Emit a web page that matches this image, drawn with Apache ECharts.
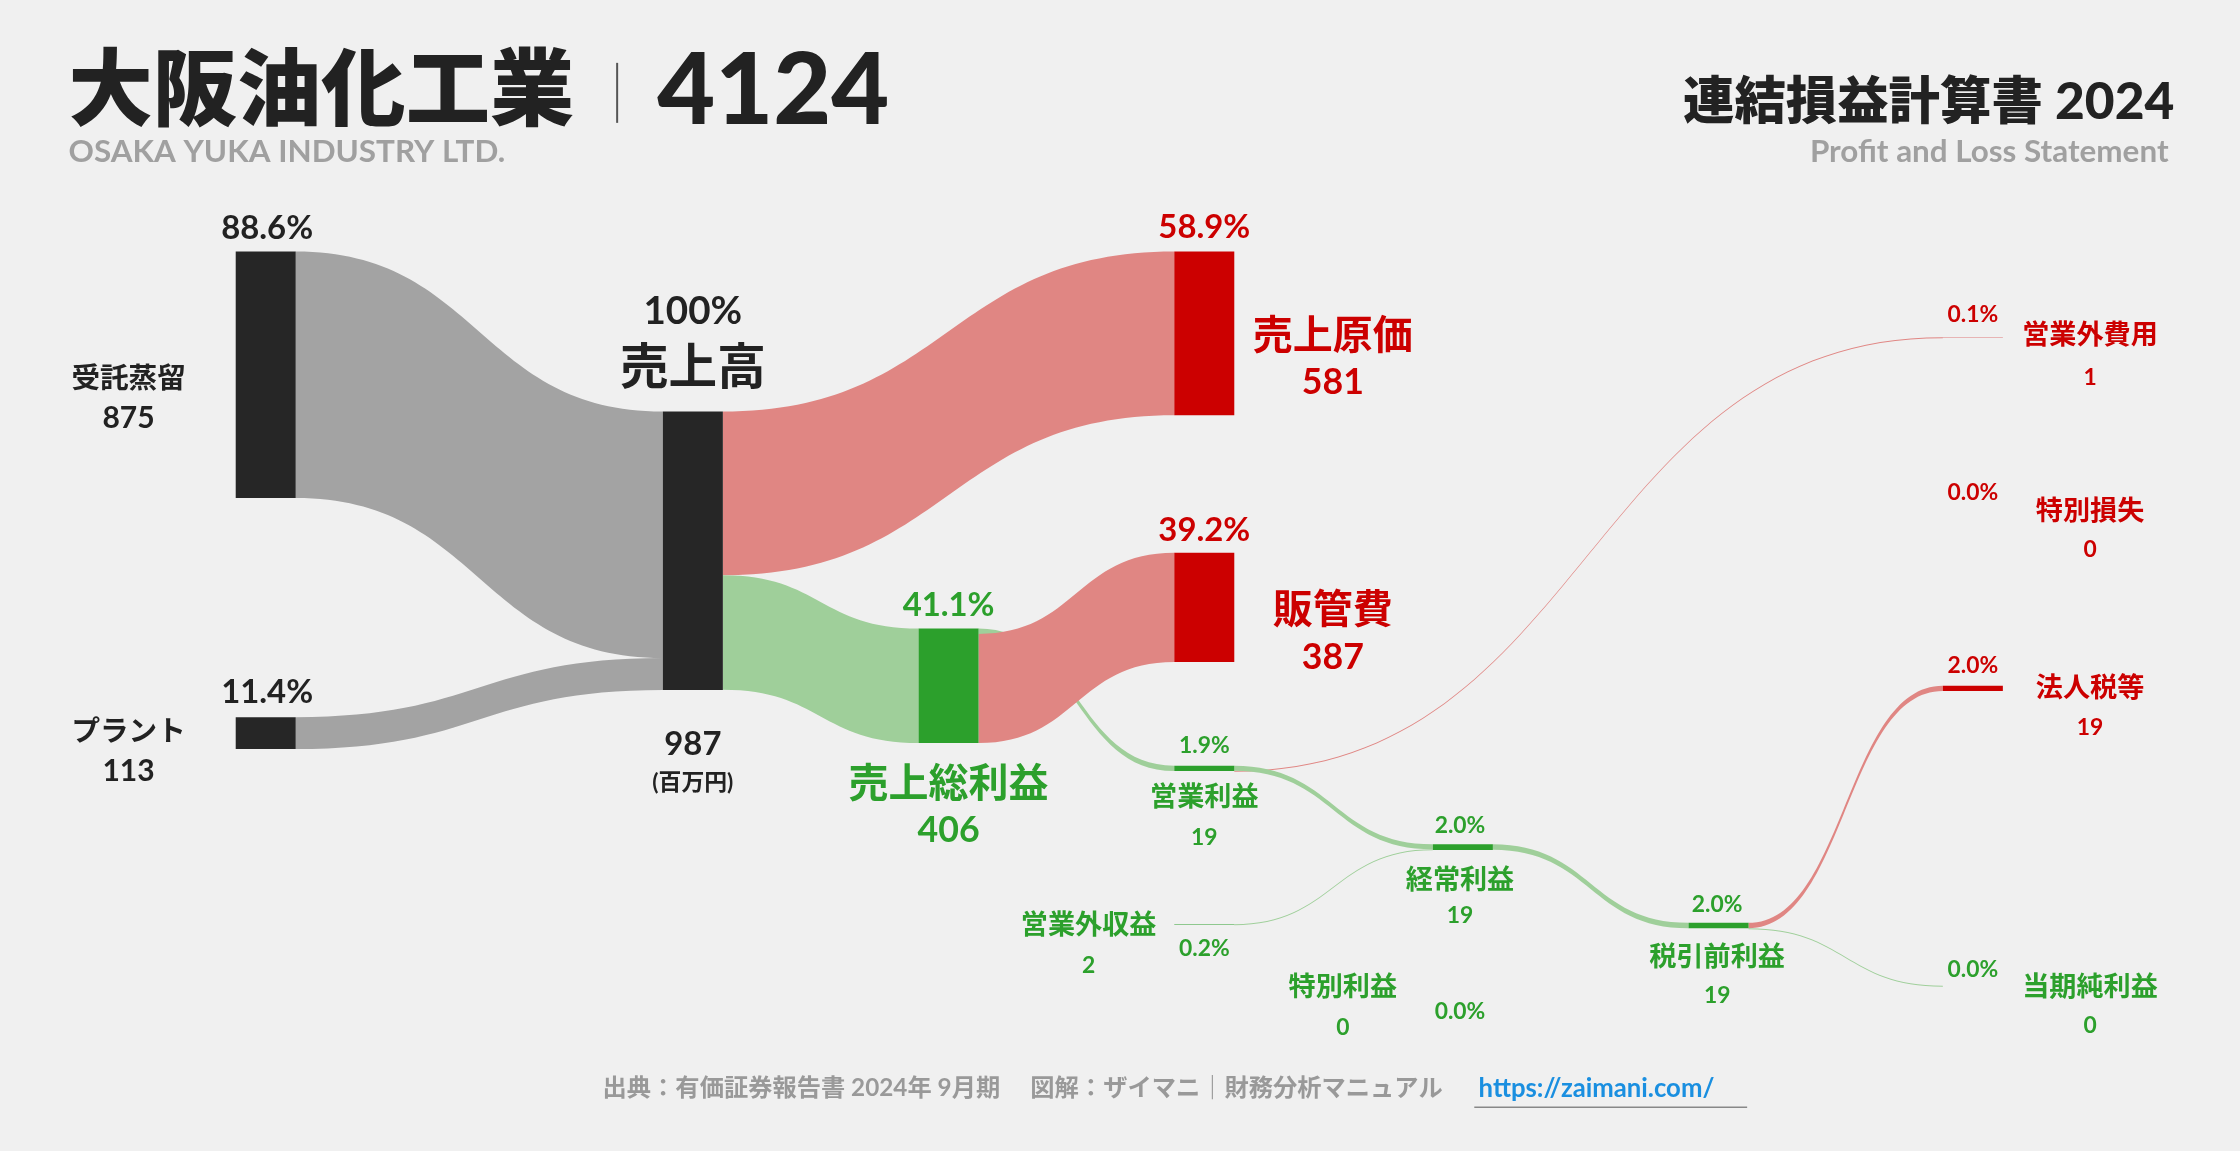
<!DOCTYPE html>
<html><head><meta charset="utf-8">
<script src="https://cdn.jsdelivr.net/npm/echarts@6/dist/echarts.min.js"></script>
<style>html,body{margin:0;padding:0;background:#f0f0f0}#c{width:2240px;height:1151px}</style>
</head><body><div id="c"></div>
<script>
// ---- data ----
const nodeNames = ['受託蒸留','プラント','売上高','売上原価','売上総利益','販管費','営業利益','営業外収益','営業外費用','経常利益','特別利益','特別損失','税引前利益','法人税等','当期純利益'];
const nodeValues = [875,113,987,581,406,387,19,2,1,19,0,0,19,19,0];
const nodePcts = ['88.6%','11.4%','100%','58.9%','41.1%','39.2%','1.9%','0.2%','0.1%','2.0%','0.0%','0.0%','2.0%','2.0%','0.0%'];
const linkSources = ['受託蒸留','プラント','売上高','売上高','売上総利益','売上総利益','営業利益','営業利益','営業外収益','経常利益','税引前利益','税引前利益'];
const linkTargets = ['売上高','売上高','売上原価','売上総利益','営業利益','販管費','営業外費用','経常利益','経常利益','税引前利益','法人税等','当期純利益'];
const linkValues = [875,113,581,406,19,387,1,18,2,19,19,0.4];
const nodeKinds = ['rev','rev','rev','cost','profit','cost','profit','profit','cost','profit','profit','cost','profit','cost','profit'];

// ---- styling / layout (reference coords, 1568 wide) ----
const S = 2240/1568, W = 2240, H = 1151;
const KY_REF_PX = 205/987;
const nodeColor = {rev:'#262626', cost:'#cc0000', profit:'#2ca02c'};
const linkColor = {rev:'#a3a3a3', cost:'#e08683', profit:'#9fcf9a'};
const nodePos = {
 '受託蒸留':[165,176],'プラント':[165,502],'売上高':[464,288],'売上原価':[822,176],'売上総利益':[643,440],
 '販管費':[822,387],'営業利益':[822,536],'営業外収益':[822,647],'営業外費用':[1360,236],'経常利益':[1003,591],
 '特別利益':[1003,705],'特別損失':[1360,357],'税引前利益':[1182,646],'法人税等':[1360,480],'当期純利益':[1360,690]
};
const kindOf = n => nodeKinds[nodeNames.indexOf(n)];

const nodes = nodeNames.map(n => ({
  name:n, localX: nodePos[n][0]*S/W, localY: nodePos[n][1]*S/H,
  itemStyle:{color:nodeColor[kindOf(n)], borderWidth:0}
}));
// invisible scale anchor so node heights match the reference scale
nodes.push({name:'_scale', value: H/(KY_REF_PX*S)*0.785, localX:0, localY:0, itemStyle:{opacity:0}});

const links = linkSources.map((s,i)=>{
  const t = linkTargets[i];
  let k = kindOf(t)==='cost' ? 'cost' : (kindOf(s)==='rev' && s!=='売上高' ? 'rev' : 'profit');
  return {source:s, target:t, value:linkValues[i], lineStyle:{color:linkColor[k], opacity:1}};
});

const FONT = 'Lato,"Noto Sans CJK JP",sans-serif';
const lab = [];
function txt(x,y,t,size,color,weight,align){
  lab.push({type:'text', x:x*S, y:y*S, style:{text:t, fontSize:size*S, fill:color, fontWeight:weight||'bold',
    fontFamily:FONT, align:align||'center', verticalAlign:'middle'}});
}
const dark='#222', red='#cc0000', green='#2ca02c';
function nl(name, cx, y1, y2, py, px, sz1, sz2, szp){
  const i = nodeNames.indexOf(name), k = nodeKinds[i];
  const col = k==='rev'?dark:(k==='cost'?red:green);
  txt(cx, y1, name, sz1, col);
  txt(cx, y2, String(nodeValues[i]), sz2, col);
  if (py!=null) txt(px, py, nodePcts[i], szp, col);
}
nl('受託蒸留',90,265,293,160,187,20,21,23);
nl('プラント',90,512,540,485,187,20,21,23);
txt(485,218,nodePcts[2],27,dark); txt(485,258,'売上高',34,dark);
txt(485,521,String(nodeValues[2]),23,dark); txt(485,548,'(百万円)',16,dark);
nl('売上原価',933,235,268,159,843,28,25,23);
nl('販管費',933,427,460,371,843,28,25,23);
nl('売上総利益',664,549,581,424,664,28,25,23);
nl('営業利益',843,558,586,522,843,19,16,16);
nl('営業外収益',762,648,676,664,843,19,16,16);
nl('経常利益',1022,616,641,578,1022,19,16,16);
nl('特別利益',940,691,719,708,1022,19,16,16);
nl('税引前利益',1202,670,697,633,1202,19,16,16);
nl('営業外費用',1463,235,264,220,1381,19,16,16);
nl('特別損失',1463,358,385,345,1381,19,16,16);
nl('法人税等',1463,482,509,466,1381,19,16,16);
nl('当期純利益',1463,691,718,679,1381,19,16,16);

// header / footer
txt(48,64,'大阪油化工業',59,'#222','900','left');
lab.push({type:'line', shape:{x1:432*S,y1:44*S,x2:432*S,y2:86*S}, style:{stroke:'#555',lineWidth:2}});
txt(460,64,'4124',70,'#222','900','left');
txt(48,106,'OSAKA YUKA INDUSTRY LTD.',22,'#a0a0a0','bold','left');
txt(1522,72,'連結損益計算書 2024',36,'#222','900','right');
txt(1518,106,'Profit and Loss Statement',22,'#a0a0a0','bold','right');
txt(1010,762,'出典：有価証券報告書 2024年 9月期　 図解：ザイマニ｜財務分析マニュアル',17,'#999','bold','right');
txt(1035,762,'https://zaimani.com/',18,'#1a8fe0','bold','left');
lab.push({type:'line', shape:{x1:1032*S,y1:775*S,x2:1223*S,y2:775*S}, style:{stroke:'#888',lineWidth:1.5}});

const chart = echarts.init(document.getElementById('c'));
chart.setOption({
  backgroundColor:'#f0f0f0',
  animation:false,
  series:[{
    type:'sankey', left:0, top:0, right:0, bottom:0,
    nodeWidth:42*S, nodeGap:2, layoutIterations:0, draggable:false,
    emphasis:{disabled:true},
    label:{show:false},
    lineStyle:{curveness:0.5},
    data:nodes, links:links
  }],
  graphic:lab
});
</script></body></html>
